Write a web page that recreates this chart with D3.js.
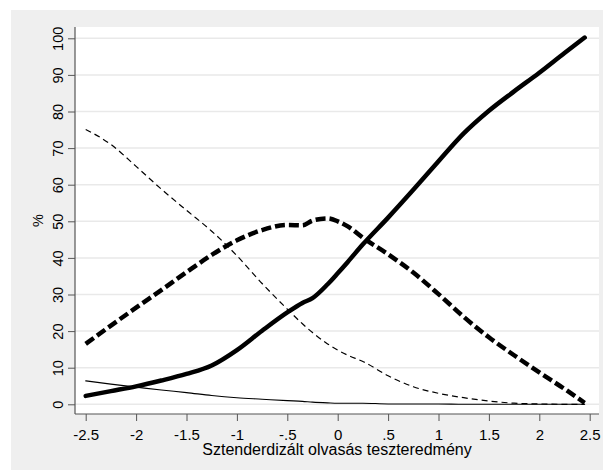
<!DOCTYPE html>
<html>

<head>
    <meta charset="utf-8">
    <style>
        body {
            margin: 0;
            background: #ffffff;
        }

        svg {
            display: block;
            font-family: 'Liberation Sans', Arial, Helvetica, sans-serif;
        }

        .tick text {
            font-size: 14.5px;
            fill: #000;
        }

        .x .tick text {
            font-size: 15px;
        }

        .tick line {
            stroke: #555;
            stroke-width: 1;
        }

        .domain {
            display: none;
        }

        .grid line {
            stroke: #e9e9e9;
            stroke-width: 1.5;
        }
    </style>
</head>

<body>
    <svg width="603" height="470"></svg>

    <script src="https://d3js.org/d3.v7.min.js"></script>
    <script>
        // values (x = standardised reading score, y = %)
        const xValues = [-2.5, -2.25, -2, -1.75, -1.5, -1.25, -1, -0.75, -0.5, -0.35, -0.25, -0.1,
            0, 0.1, 0.25, 0.5, 0.75, 1, 1.25, 1.5, 1.75, 2, 2.25, 2.45];

        // thin dashed
        const seriesThinDash = [75.1, 71.0, 65.0, 58.8, 53.0, 47.3, 40.6, 33.0, 26.0, 22.0, 19.6, 16.5,
            14.8, 13.4, 11.7, 7.8, 4.8, 3.0, 1.8, 0.9, 0.3, 0.1, 0.0, 0.0];

        // thick dashed
        const seriesThickDash = [16.5, 21.5, 26.4, 31.2, 36.1, 40.8, 44.8, 47.6, 49.0, 48.9, 50.2, 50.8,
            50.0, 48.6, 45.5, 41.0, 36.0, 30.1, 23.9, 18.3, 13.4, 8.7, 4.2, 0.4];

        // thick solid
        const seriesThickSolid = [2.3, 3.6, 4.9, 6.5, 8.3, 10.6, 14.8, 20.1, 25.1, 27.7, 29.0, 32.8,
            35.8, 38.9, 43.7, 51.0, 58.6, 66.4, 74.0, 80.2, 85.5, 90.6, 96.0, 100.2];

        // thin solid
        const seriesThinSolid = [6.4, 5.5, 4.7, 3.9, 3.2, 2.4, 1.8, 1.4, 1.0, 0.8, 0.6, 0.4,
            0.3, 0.3, 0.3, 0.1, 0.1, 0.1, 0.0, 0.0, 0.0, 0.0, 0.0, 0.0];

        const xTicks = [-2.5, -2, -1.5, -1, -0.5, 0, 0.5, 1, 1.5, 2, 2.5];
        const xTickLabels = ["-2.5", "-2", "-1.5", "-1", "-.5", "0", ".5", "1", "1.5", "2", "2.5"];
        const yTicks = [0, 10, 20, 30, 40, 50, 60, 70, 80, 90, 100];

        const xTitle = "Sztenderdizált olvasás teszteredmény";
        const yTitle = "%";

        let svg = d3.select("svg");

        // outer graph region and plot region
        let plot = { left: 75, right: 599, top: 27, bottom: 414 };

        svg.append("rect")
            .attr("x", 11)
            .attr("y", 10)
            .attr("width", 603 - 11)
            .attr("height", 470 - 10)
            .style("fill", "#efefef")

        svg.append("rect")
            .attr("x", plot.left)
            .attr("y", plot.top)
            .attr("width", plot.right - plot.left)
            .attr("height", plot.bottom - plot.top)
            .style("fill", "#ffffff")

        let x = d3.scaleLinear()
            .domain([-2.5, 2.5])
            .range([85.7, 589.7])

        let y = d3.scaleLinear()
            .domain([0, 100])
            .range([404.3, 38.3])

        // horizontal gridlines
        svg.append("g")
            .attr("class", "grid")
            .selectAll("line")
            .data(yTicks)
            .join("line")
            .attr("x1", plot.left)
            .attr("x2", plot.right)
            .attr("y1", d => y(d))
            .attr("y2", d => y(d))

        // axes
        let xAxisSettings = d3.axisBottom(x)
            .tickValues(xTicks)
            .tickFormat((d, i) => xTickLabels[i])
            .tickSize(7)
            .tickPadding(8)

        let yAxisSettings = d3.axisLeft(y)
            .tickValues(yTicks)
            .tickFormat(d3.format("d"))
            .tickSize(7)

        svg.append("g")
            .attr("class", "x axis")
            .attr("transform", `translate(0,${plot.bottom})`)
            .call(xAxisSettings)

        let yAxisTicks = svg.append("g")
            .attr("class", "y axis")
            .attr("transform", `translate(${plot.left},0)`)
            .call(yAxisSettings)

        // stata style: y labels turned upright
        yAxisTicks.selectAll(".tick text")
            .attr("x", 0)
            .attr("y", -12)
            .attr("dy", 0)
            .attr("transform", "rotate(-90)")
            .style("text-anchor", "middle")

        // axis lines along the plot region
        svg.append("line")
            .attr("x1", plot.left)
            .attr("x2", plot.left)
            .attr("y1", plot.top)
            .attr("y2", plot.bottom)
            .style("stroke", "#555")
            .style("stroke-width", 1.2)

        svg.append("line")
            .attr("x1", plot.left)
            .attr("x2", plot.right)
            .attr("y1", plot.bottom)
            .attr("y2", plot.bottom)
            .style("stroke", "#555")
            .style("stroke-width", 1.2)

        // curves
        let line = d3.line()
            .x((d, i) => x(xValues[i]))
            .y(d => y(d))
            .curve(d3.curveMonotoneX)

        let curves = [
            { values: seriesThinDash, width: 1.2, dash: "6,4", cap: "butt" },
            { values: seriesThinSolid, width: 1.1, dash: null, cap: "round" },
            { values: seriesThickDash, width: 4.5, dash: "10,4", cap: "butt" },
            { values: seriesThickSolid, width: 4.5, dash: null, cap: "round" }
        ];

        svg.append("g")
            .selectAll("path")
            .data(curves)
            .join("path")
            .attr("d", d => line(d.values))
            .style("fill", "none")
            .style("stroke", "#000")
            .style("stroke-width", d => d.width)
            .style("stroke-dasharray", d => d.dash)
            .style("stroke-linecap", d => d.cap)
            .style("stroke-linejoin", "round")

        // titles
        svg.append("text")
            .attr("x", (plot.left + plot.right) / 2)
            .attr("y", 455)
            .style("text-anchor", "middle")
            .style("font-size", "16px")
            .text(xTitle)

        svg.append("text")
            .attr("transform", `translate(43,${(plot.top + plot.bottom) / 2}) rotate(-90)`)
            .style("text-anchor", "middle")
            .style("font-size", "14.5px")
            .text(yTitle)
    </script>
</body>

</html>
